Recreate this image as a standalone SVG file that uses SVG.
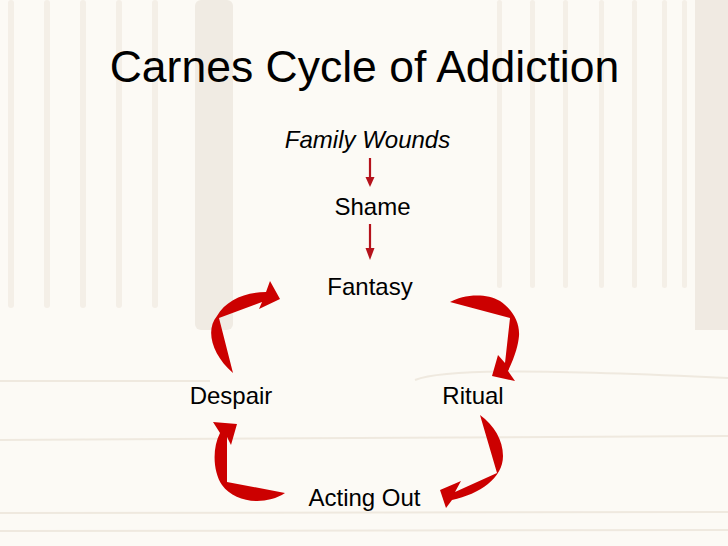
<svg xmlns="http://www.w3.org/2000/svg" width="728" height="546" viewBox="0 0 728 546">
  <style>
    .lbl { font-family: "Liberation Sans", Arial, sans-serif; font-size: 24px; fill: #000; text-anchor: middle; }
    .title { font-family: "Liberation Sans", Arial, sans-serif; font-size: 44.5px; fill: #000; text-anchor: middle; }
    .flute { fill: #f4efe7; }
    .band { fill: #f0ebe3; }
    .hl { stroke: #efe9df; stroke-width: 2; fill: none; }
    .big { fill: #cc0000; }
    .small-line { stroke: #b5121b; stroke-width: 2.2; }
    .small-head { fill: #b5121b; }
  </style>

  <!-- background -->
  <g id="background">
    <rect x="0" y="0" width="728" height="546" fill="#fcfaf5"/>
    <rect class="band" x="195" y="0" width="38" height="330" rx="6"/>
    <rect class="flute" x="8" y="0" width="6" height="308" rx="3"/>
    <rect class="flute" x="44" y="0" width="6" height="308" rx="3"/>
    <rect class="flute" x="80" y="0" width="6" height="308" rx="3"/>
    <rect class="flute" x="116" y="0" width="6" height="308" rx="3"/>
    <rect class="flute" x="152" y="0" width="6" height="308" rx="3"/>
    <rect class="flute" x="497" y="0" width="5" height="288" rx="2.5"/>
    <rect class="flute" x="530" y="0" width="5" height="288" rx="2.5"/>
    <rect class="flute" x="563" y="0" width="5" height="288" rx="2.5"/>
    <rect class="flute" x="599" y="0" width="5" height="288" rx="2.5"/>
    <rect class="flute" x="632" y="0" width="5" height="288" rx="2.5"/>
    <rect class="flute" x="662" y="0" width="5" height="288" rx="2.5"/>
    <rect class="flute" x="682" y="0" width="5" height="288" rx="2.5"/>
    <rect x="695" y="0" width="33" height="330" fill="#f0eae2"/>
    <path class="hl" d="M0,381 L210,381"/>
    <path class="hl" d="M415,380 C440,370 520,368 728,378"/>
    <path class="hl" d="M0,440 L728,436"/>
    <path class="hl" d="M0,513 L728,512"/>
    <path class="hl" d="M0,531 L728,530"/>
  </g>

  <g id="title">
    <text class="title" x="364.5" y="82">Carnes Cycle of Addiction</text>
  </g>

  <g id="node-family-wounds">
    <text class="lbl" x="367.5" y="148" font-style="italic">Family Wounds</text>
  </g>
  <g id="node-shame">
    <text class="lbl" x="372.5" y="215">Shame</text>
  </g>
  <g id="node-fantasy">
    <text class="lbl" x="370" y="295">Fantasy</text>
  </g>
  <g id="node-ritual">
    <text class="lbl" x="473" y="404">Ritual</text>
  </g>
  <g id="node-acting-out">
    <text class="lbl" x="364.5" y="506">Acting Out</text>
  </g>
  <g id="node-despair">
    <text class="lbl" x="231" y="404">Despair</text>
  </g>

  <g id="connectors">
    <!-- Family Wounds -> Shame -->
    <line class="small-line" x1="370" y1="158" x2="370" y2="179"/>
    <polygon class="small-head" points="365.5,177 374.5,177 370,187"/>
    <!-- Shame -> Fantasy -->
    <line class="small-line" x1="370" y1="224" x2="370" y2="250"/>
    <polygon class="small-head" points="365.5,248 374.5,248 370,260"/>
    <!-- Fantasy -> Ritual -->
    <path class="big" d="M450,302 C462,295 485,292 500,301 C512,309 520,322 519,336 C518,345 516,354 508,371 L515,381 L492,376 L498,355 L505,363 L510,318 Z"/>
    <!-- Ritual -> Acting Out -->
    <path class="big" d="M480,415 C494,425 503,440 503,456 C503,478 480,494 452,500 L446,508 L440,490 L461,481 L455,492 L497,473 Z"/>
    <!-- Acting Out -> Despair -->
    <path class="big" d="M285,493 C265,506 235,503 222,485 C213,472 212,448 220,433 L213,422 L237,424 L231,445 L227,437 L227,482 Z"/>
    <!-- Despair -> Fantasy -->
    <path class="big" d="M233,373 C212,355 205,330 217,316 C226,300 245,292 266,292 L270,281 L280,299 L259,309 L262,302 L219,318 Z"/>
  </g>
</svg>
